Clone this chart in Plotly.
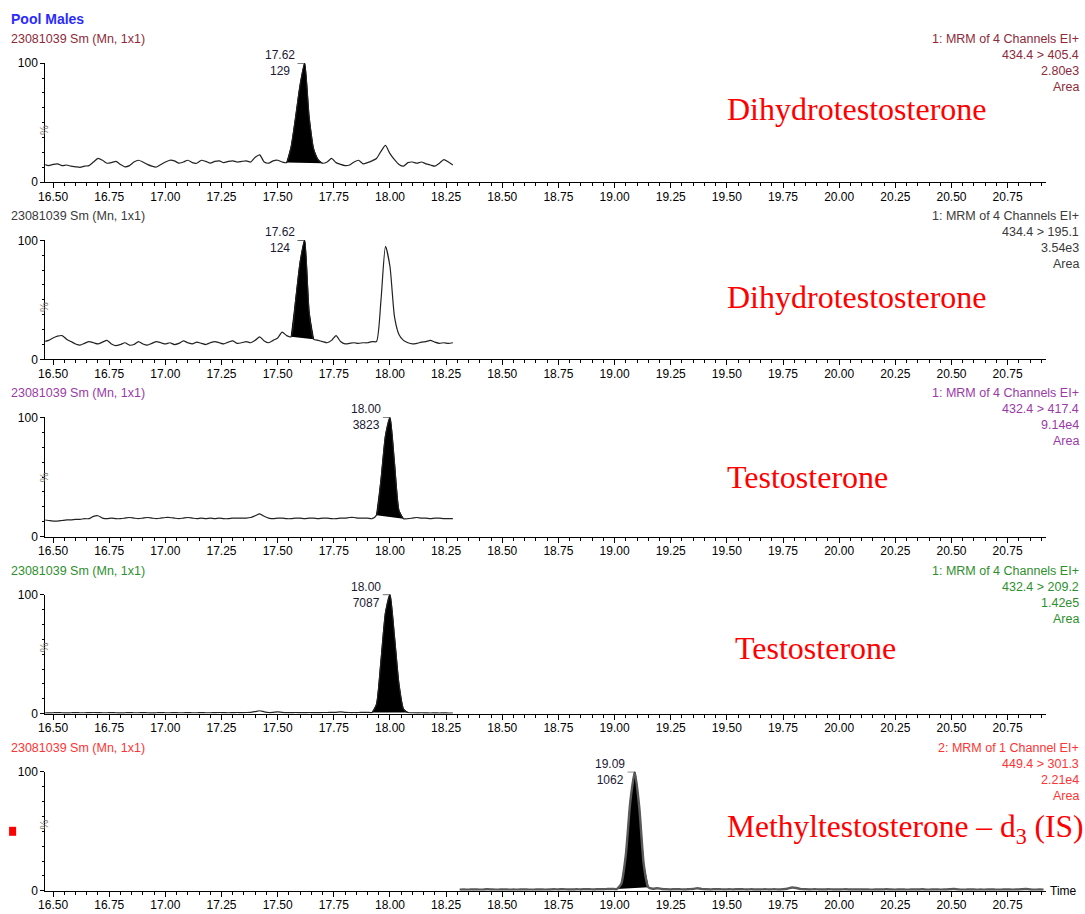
import plotly.graph_objects as go

# ---------------------------------------------------------------- data
# scan times (min) for the four MRM channels of function 1
RT_F1 = [
    16.46, 16.48, 16.50, 16.52, 16.54, 16.56, 16.58, 16.60, 16.62, 16.64,
    16.66, 16.68, 16.70, 16.72, 16.74, 16.76, 16.78, 16.80, 16.82, 16.84,
    16.86, 16.88, 16.90, 16.92, 16.94, 16.96, 16.98, 17.00, 17.02, 17.04,
    17.06, 17.08, 17.10, 17.12, 17.14, 17.16, 17.18, 17.20, 17.22, 17.24,
    17.26, 17.28, 17.30, 17.32, 17.34, 17.36, 17.38, 17.40, 17.42, 17.44,
    17.46, 17.48, 17.50, 17.52, 17.54, 17.56, 17.58, 17.60, 17.62, 17.64,
    17.66, 17.68, 17.70, 17.72, 17.74, 17.76, 17.78, 17.80, 17.82, 17.84,
    17.86, 17.88, 17.90, 17.92, 17.94, 17.96, 17.98, 18.00, 18.02, 18.04,
    18.06, 18.08, 18.10, 18.12, 18.14, 18.16, 18.18, 18.20, 18.22, 18.24,
    18.26, 18.28,
]

# relative intensity (%) 434.4 > 405.4
DHT_405 = [
    15, 14, 15, 15.5, 14, 14.5, 13.5, 13, 12.5, 13.5,
    14, 17, 20, 18.5, 16, 16.5, 17.5, 15, 13, 14,
    17, 18.5, 17, 15, 13.5, 12.8, 15, 17, 18.5, 18,
    16, 17, 18.5, 16.5, 16, 18.5, 17.5, 16, 17.5, 18,
    16.5, 17.5, 18, 17, 17.5, 18, 17, 21, 23, 17,
    16, 18, 18.5, 17, 16.5, 30, 55, 82, 100, 55,
    28, 19, 16, 17, 20, 16.5, 15, 14, 14.5, 17,
    18.5, 15.5, 16.5, 18, 20, 26, 31, 24, 19, 15,
    13.5, 16.5, 17, 16, 17, 15.5, 14.5, 13.5, 16, 19,
    17, 14.5,
]

# relative intensity (%) 434.4 > 195.1
DHT_195 = [
    15, 16, 18, 19.5, 20, 17, 15, 13, 12, 13.5,
    15, 14, 13, 14.5, 16, 13, 11.5, 12.5, 14, 12,
    12.5, 15, 13, 12, 13.5, 15, 14, 13, 14, 12.5,
    13.5, 15.5, 14, 13, 14.5, 13.5, 12.5, 14, 15, 14,
    13, 14.5, 15.5, 13.5, 14, 15, 14, 16, 19, 15.5,
    14, 16, 18, 23, 20, 19, 50, 82, 100, 40,
    17, 16, 15, 14, 16, 20, 15, 13, 13.5, 14,
    13.5, 14, 14, 15, 15, 50, 95, 78, 36, 21,
    16, 14, 13, 13.5, 14.5, 15, 16, 14.5, 13.5, 14,
    13.5, 14,
]

# relative intensity (%) 432.4 > 417.4
TESTO_417 = [
    14, 13.5, 13, 13, 13.5, 14, 14, 14.5, 14.5, 15,
    15, 17, 17.5, 15.5, 15, 15.5, 15, 15, 15.5, 16,
    15.5, 15, 15.5, 16, 15.5, 15, 15.5, 16, 16, 15.5,
    15, 15.5, 16, 15.5, 15, 15.5, 15, 15.5, 15, 15.5,
    15, 15, 15.5, 15.5, 15.5, 15.5, 16, 17.5, 19, 17,
    15.5, 15, 15.5, 15.5, 15, 15, 15.5, 15.5, 15, 15.5,
    15.5, 15, 15.5, 15.5, 15, 15, 15.5, 15.5, 16, 16,
    15.5, 15.5, 15.5, 15, 18, 48, 85, 100, 62, 22,
    15, 15, 15.5, 16, 15.5, 15.5, 15, 15.5, 15.5, 15,
    15, 15,
]

# relative intensity (%) 432.4 > 209.2
TESTO_209 = [
    0.8, 0.7, 0.8, 0.9, 0.8, 0.7, 0.8, 0.9, 0.8, 0.8,
    0.9, 1.0, 0.9, 0.8, 0.8, 0.9, 0.8, 0.7, 0.8, 0.9,
    0.8, 0.8, 0.9, 0.8, 0.7, 0.8, 0.9, 0.8, 0.8, 0.9,
    0.8, 0.8, 0.9, 0.8, 0.8, 0.9, 0.8, 0.8, 0.9, 1.0,
    0.9, 0.8, 0.9, 1.0, 0.9, 1.0, 1.2, 1.8, 2.5, 1.6,
    1.0, 1.2, 1.5, 1.1, 0.9, 0.9, 1.0, 0.9, 0.9, 1.0,
    0.9, 0.9, 1.0, 1.0, 1.1, 1.2, 1.5, 1.1, 1.0, 1.0,
    1.0, 1.1, 1.2, 1.0, 8, 45, 85, 100, 65, 25,
    4, 1.0, 0.8, 0.7, 0.8, 0.7, 0.6, 0.7, 0.6, 0.7,
    0.6, 0.6,
]

# scan times (min) for function 2
RT_F2 = [
    18.31, 18.33, 18.35, 18.37, 18.39, 18.41, 18.43, 18.45, 18.47, 18.49,
    18.51, 18.53, 18.55, 18.57, 18.59, 18.61, 18.63, 18.65, 18.67, 18.69,
    18.71, 18.73, 18.75, 18.77, 18.79, 18.81, 18.83, 18.85, 18.87, 18.89,
    18.91, 18.93, 18.95, 18.97, 18.99, 19.01, 19.03, 19.05, 19.07, 19.09,
    19.11, 19.13, 19.15, 19.17, 19.19, 19.21, 19.23, 19.25, 19.27, 19.29,
    19.31, 19.33, 19.35, 19.37, 19.39, 19.41, 19.43, 19.45, 19.47, 19.49,
    19.51, 19.53, 19.55, 19.57, 19.59, 19.61, 19.63, 19.65, 19.67, 19.69,
    19.71, 19.73, 19.75, 19.77, 19.79, 19.81, 19.83, 19.85, 19.87, 19.89,
    19.91, 19.93, 19.95, 19.97, 19.99, 20.01, 20.03, 20.05, 20.07, 20.09,
    20.11, 20.13, 20.15, 20.17, 20.19, 20.21, 20.23, 20.25, 20.27, 20.29,
    20.31, 20.33, 20.35, 20.37, 20.39, 20.41, 20.43, 20.45, 20.47, 20.49,
    20.51, 20.53, 20.55, 20.57, 20.59, 20.61, 20.63, 20.65, 20.67, 20.69,
    20.71, 20.73, 20.75, 20.77, 20.79, 20.81, 20.83, 20.85, 20.87, 20.89,
    20.91,
]

# relative intensity (%) 449.4 > 301.3
MT_D3_301 = [
    1.0, 1.1, 1.0, 1.2, 1.1, 1.0, 1.3, 1.2, 1.0, 1.1,
    1.2, 1.0, 1.1, 1.0, 1.2, 1.1, 1.0, 1.1, 1.2, 1.0,
    1.1, 1.3, 1.2, 1.4, 1.2, 1.1, 1.3, 1.2, 1.4, 1.3,
    1.2, 1.4, 1.3, 1.5, 1.6, 1.5, 6, 30, 75, 100,
    70, 22, 3, 1.8, 2.2, 1.6, 1.3, 1.2, 1.4, 1.3,
    1.2, 1.4, 1.6, 2.2, 1.5, 1.3, 1.2, 1.4, 1.3, 1.2,
    1.3, 1.2, 1.4, 1.3, 1.2, 1.3, 1.1, 1.2, 1.3, 1.2,
    1.3, 1.2, 1.4, 1.8, 2.8, 2.4, 1.5, 1.3, 1.2, 1.3,
    1.2, 1.1, 1.3, 1.2, 1.1, 1.2, 1.3, 1.1, 1.2, 1.1,
    1.2, 1.1, 1.0, 1.2, 1.1, 1.3, 1.1, 1.0, 1.2, 1.1,
    1.0, 1.2, 1.1, 1.3, 1.0, 1.1, 1.2, 1.0, 1.1, 1.3,
    1.6, 1.2, 1.0, 1.1, 1.2, 1.0, 1.1, 1.0, 1.2, 1.1,
    1.0, 1.1, 1.2, 1.0, 1.1, 1.3, 1.5, 1.2, 1.0, 1.1,
    1.0,
]

# integrated peaks: apex time, peak label value, integration start / end
PEAK_RT = ["17.62", "17.62", "18.00", "18.00", "19.09"]
PEAK_AREA = ["129", "124", "3823", "7087", "1062"]
PEAK_START = [17.54, 17.56, 17.94, 17.92, 19.01]
PEAK_END = [17.70, 17.66, 18.06, 18.08, 19.15]

FUNCTION_TEXT = ["1: MRM of 4 Channels EI+"] * 4 + ["2: MRM of 1 Channel EI+"]
TRANSITIONS = ["434.4 > 405.4", "434.4 > 195.1", "432.4 > 417.4",
               "432.4 > 209.2", "449.4 > 301.3"]
TIC_MAX = ["2.80e3", "3.54e3", "9.14e4", "1.42e5", "2.21e4"]
COMPOUNDS = ["Dihydrotestosterone", "Dihydrotestosterone", "Testosterone",
             "Testosterone", "Methyltestosterone \u2013 d<sub>3</sub> (IS)"]
SAMPLE_NAME = "Pool Males"
FILE_TEXT = "23081039 Sm (Mn, 1x1)"

# ---------------------------------------------------------------- styling
# Layout positions below are given in screen pixels of the final view.
# The graph sits 8 px inside the page body and the view is slightly
# condensed (SX, SY), so screen pixels are converted to figure fractions.
BODY_MARGIN = 8
SX, SY = 0.990, 0.984
W, H = 1088, 922
FONT = "Liberation Sans, Arial, sans-serif"
HEADER_COLORS = ["#8e2a3a", "#3a3a3a", "#9a3aa8", "#2e8f2e", "#ff3333"]
LABEL_X = [723, 723, 723, 731, 723]
LABEL_Y = [110, 298, 477, 648, 829]
LABEL_SIZE = [32, 32, 32, 32, 31.5]
TRACE_COLOR = "#222222"
X_RANGE = [16.465, 20.92]
AX_LEFT, AX_RIGHT = 46, 1043
PANEL_TOP0, PANEL_BOT0, PANEL_STEP = 64, 183, 177

series = [(RT_F1, DHT_405), (RT_F1, DHT_195), (RT_F1, TESTO_417),
          (RT_F1, TESTO_209), (RT_F2, MT_D3_301)]


def fx(px):
    """screen x pixel -> paper fraction"""
    return (px / SX - BODY_MARGIN) / W


def fy(py):
    """screen y pixel (from top) -> paper fraction"""
    return 1 - (py / SY - BODY_MARGIN) / H


fig = go.Figure()
layout = dict(
    width=W, height=H, margin=dict(l=0, r=0, t=0, b=0),
    paper_bgcolor="white", plot_bgcolor="white", showlegend=False,
)
annotations, shapes = [], []

for k, (rt, inten) in enumerate(series):
    n = k + 1
    xref, yref = f"x{n}", f"y{n}"
    top_px = PANEL_TOP0 + PANEL_STEP * k
    bot_px = PANEL_BOT0 + PANEL_STEP * k

    # integrated peak area (filled black, closed by a straight baseline)
    i0 = rt.index(PEAK_START[k])
    i1 = rt.index(PEAK_END[k])
    fig.add_trace(go.Scatter(
        x=rt[i0:i1 + 1], y=inten[i0:i1 + 1], xaxis=xref, yaxis=yref,
        mode="lines", fill="toself", fillcolor="black",
        line=dict(color="black", width=1, shape="spline", smoothing=0.5),
        hoverinfo="skip"))

    # chromatogram trace
    fig.add_trace(go.Scatter(
        x=rt, y=inten, xaxis=xref, yaxis=yref, mode="lines",
        line=dict(color="#5a5a5a" if k == 4 else TRACE_COLOR,
                  width=2.4 if k == 4 else 1.2,
                  shape="spline", smoothing=0.6),
        hoverinfo="skip"))

    xa = dict(
        domain=[fx(AX_LEFT), fx(AX_RIGHT)], range=X_RANGE, anchor=yref,
        tickmode="linear", tick0=16.5, dtick=0.25, tickformat=".2f",
        ticks="outside", ticklen=5, tickcolor="black", tickwidth=1,
        ticklabelstandoff=-2,
        showline=True, linecolor="black", linewidth=1,
        showgrid=False, zeroline=False,
        tickfont=dict(family=FONT, size=12, color="black"),
        minor=dict(tickmode="linear", tick0=16.5, dtick=0.05,
                   ticks="outside", ticklen=3, tickcolor="black",
                   showgrid=False),
    )
    ya = dict(
        domain=[fy(bot_px), fy(top_px)], range=[0, 100], anchor=xref,
        tickmode="array", tickvals=[0, 100], ticktext=["0", "100"],
        ticks="outside", ticklen=4, tickcolor="black",
        showline=True, linecolor="black", linewidth=1,
        showgrid=False, zeroline=False,
        tickfont=dict(family=FONT, size=12, color="black"),
        minor=dict(tickmode="linear", tick0=0, dtick=12.5,
                   ticks="outside", ticklen=2, tickcolor="black",
                   showgrid=False),
    )
    layout["xaxis" if n == 1 else f"xaxis{n}"] = xa
    layout["yaxis" if n == 1 else f"yaxis{n}"] = ya

    # percent axis label
    annotations.append(dict(
        xref="paper", yref="paper", x=fx(37),
        y=fy((top_px + bot_px) / 2), text="%", textangle=-90,
        showarrow=False, font=dict(family=FONT, size=11, color="#777777")))

    # file / scan header (left)
    annotations.append(dict(
        xref="paper", yref="paper", x=fx(10), y=fy(top_px - 24),
        xanchor="left", yanchor="middle", text=FILE_TEXT, showarrow=False,
        font=dict(family=FONT, size=12.5, color=HEADER_COLORS[k])))

    # channel header (right)
    for j, line in enumerate([FUNCTION_TEXT[k], TRANSITIONS[k], TIC_MAX[k], "Area"]):
        annotations.append(dict(
            xref="paper", yref="paper", x=fx(1078),
            y=fy(top_px - 24 + 16 * j), xanchor="right", yanchor="middle",
            text=line, showarrow=False,
            font=dict(family=FONT, size=12.5, color=HEADER_COLORS[k])))

    # peak apex label with leader line
    apex = float(PEAK_RT[k])
    shapes.append(dict(type="line", xref=xref, yref=yref,
                       x0=apex - 0.032, x1=apex, y0=100, y1=100,
                       line=dict(color="black", width=1)))
    annotations.append(dict(
        xref=xref, yref=yref, x=apex - 0.033, y=100, xanchor="right",
        yanchor="middle", align="center",
        text=f"{PEAK_RT[k]}<br>{PEAK_AREA[k]}", showarrow=False,
        font=dict(family=FONT, size=12, color="#1a1a33")))

    # compound name
    annotations.append(dict(
        xref="paper", yref="paper", x=fx(LABEL_X[k]), y=fy(LABEL_Y[k]),
        xanchor="left", yanchor="middle", text=COMPOUNDS[k], showarrow=False,
        font=dict(family="Liberation Serif, Times New Roman, serif",
                  size=LABEL_SIZE[k], color="#ff0000")))

# sample name
annotations.append(dict(
    xref="paper", yref="paper", x=fx(10), y=fy(20), xanchor="left",
    yanchor="middle", text=f"<b>{SAMPLE_NAME}</b>", showarrow=False,
    font=dict(family=FONT, size=14, color="#2b2bff")))

# time axis caption
annotations.append(dict(
    xref="paper", yref="paper", x=fx(1045), y=fy(891), xanchor="left",
    yanchor="middle", text="Time", showarrow=False,
    font=dict(family=FONT, size=12, color="black")))

# internal-standard marker
shapes.append(dict(type="rect", xref="paper", yref="paper",
                   x0=fx(10), x1=fx(17), y0=fy(836), y1=fy(827),
                   fillcolor="#ff0000", line=dict(width=0)))

layout["annotations"] = annotations
layout["shapes"] = shapes
fig.update_layout(**layout)
fig.write_html("out.html")
